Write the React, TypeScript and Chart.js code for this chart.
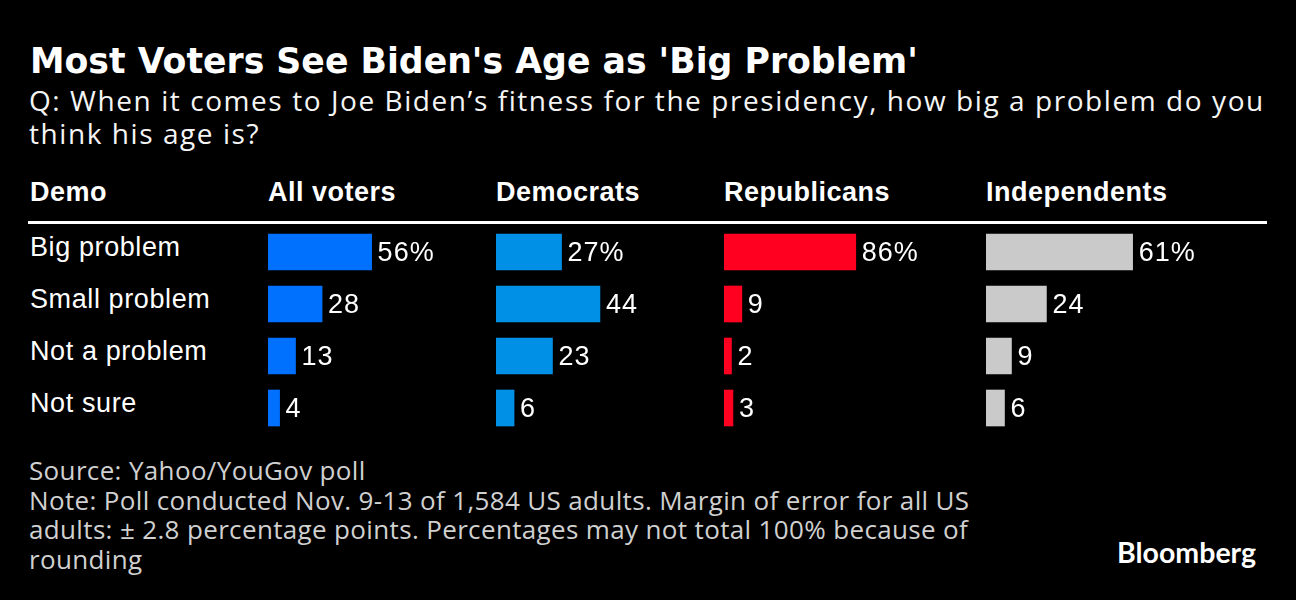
import React, { useEffect, useRef } from "react";
import { Chart, registerables } from "chart.js";

Chart.register(...registerables);

// ---- data ----
const title = "Most Voters See Biden's Age as 'Big Problem'";
const subtitleLines = [
  "Q: When it comes to Joe Biden\u2019s fitness for the presidency, how big a problem do you",
  "think his age is?",
];
const headerDemo = "Demo";
const categories = ["Big problem", "Small problem", "Not a problem", "Not sure"];
const groups = ["All voters", "Democrats", "Republicans", "Independents"];
const allVoters = [56, 28, 13, 4];
const democrats = [27, 44, 23, 6];
const republicans = [86, 9, 2, 3];
const independents = [61, 24, 9, 6];
const sourceLines = [
  "Source: Yahoo/YouGov poll",
  "Note: Poll conducted Nov. 9-13 of 1,584 US adults. Margin of error for all US",
  "adults: \u00b1 2.8 percentage points. Percentages may not total 100% because of",
  "rounding",
];

// ---- layout / style ----
const seriesValues = [allVoters, democrats, republicans, independents];
const colors = ["#0070ff", "#0091e6", "#ff0021", "#cacaca"];
const colLeft = [268, 496, 724, 986];
const colWidth = [228, 228, 262, 282];
const pxPerUnit = [1.77, 2.26, 1.48, 2.33];
const baseOffsetPx = 4.5;
const chartTop = 226;
const rowH = 52;

const SANS = "'Liberation Sans', Arial, Helvetica, sans-serif";
const DEJAVU = "'DejaVu Sans', sans-serif";
const TEXT = "'Open Sans', 'Noto Sans', sans-serif";
const LOGO = "Lato, 'Open Sans', sans-serif";

function BarColumn(props: { values: number[]; color: string; left: number; width: number; ppu: number }) {
  const { values, color, left, width, ppu } = props;
  const ref = useRef<HTMLCanvasElement>(null);
  const height = rowH * categories.length;
  useEffect(() => {
    if (!ref.current) return;
    const min = -baseOffsetPx / ppu;
    const max = min + width / ppu;
    const labelPlugin = {
      id: "valueLabels",
      afterDatasetsDraw(chart: any) {
        const ctx = chart.ctx as CanvasRenderingContext2D;
        const meta = chart.getDatasetMeta(0);
        ctx.save();
        ctx.fillStyle = "#ffffff";
        ctx.font = `27px ${SANS}`;
        (ctx as any).letterSpacing = "1px";
        ctx.textAlign = "left";
        ctx.textBaseline = "alphabetic";
        meta.data.forEach((bar: any, i: number) => {
          const v = values[i];
          const text = i === 0 ? `${v}%` : `${v}`;
          ctx.fillText(text, bar.x + 6, bar.y + 8.5);
        });
        ctx.restore();
      },
    };
    const chart = new Chart(ref.current, {
      type: "bar",
      data: {
        labels: categories,
        datasets: [
          {
            data: values,
            backgroundColor: color,
            borderWidth: 0,
            base: min,
            barThickness: 36,
          } as any,
        ],
      },
      options: {
        indexAxis: "y",
        animation: false,
        responsive: false,
        maintainAspectRatio: false,
        events: [],
        layout: { padding: 0 },
        plugins: { legend: { display: false }, tooltip: { enabled: false } },
        scales: {
          x: { display: false, min, max },
          y: { display: false },
        },
      },
      plugins: [labelPlugin],
    });
    return () => chart.destroy();
  }, []);
  return (
    <canvas
      ref={ref}
      width={width}
      height={height}
      style={{ position: "absolute", left, top: chartTop, width, height }}
    />
  );
}

export default function App() {
  useEffect(() => {
    document.body.style.margin = "0";
    document.body.style.background = "#000";
  }, []);
  const abs = (s: React.CSSProperties): React.CSSProperties => ({ position: "absolute", whiteSpace: "nowrap", margin: 0, ...s });
  return (
    <div style={{ position: "relative", width: 1296, height: 600, background: "#000", overflow: "hidden", color: "#fff" }}>
      <div style={abs({ left: 30, top: 44, fontFamily: DEJAVU, fontWeight: "bold", fontSize: 34.7, lineHeight: "34px" })}>{title}</div>
      {subtitleLines.map((l, i) => (
        <div key={i} style={abs({ left: 29, top: 84.2 + i * 33, fontFamily: TEXT, fontSize: 28, lineHeight: "33px", letterSpacing: "1.57px", color: "#f5f5f5" })}>{l}</div>
      ))}
      <div style={abs({ left: 30, top: 179, fontFamily: SANS, fontWeight: "bold", fontSize: 27, lineHeight: "27px", letterSpacing: "0.5px" })}>{headerDemo}</div>
      {groups.map((g, i) => (
        <div key={g} style={abs({ left: colLeft[i], top: 179, fontFamily: SANS, fontWeight: "bold", fontSize: 27, lineHeight: "27px", letterSpacing: "0.5px" })}>{g}</div>
      ))}
      <div style={abs({ left: 28, top: 221, width: 1239, height: 3, background: "#fff" })} />
      {categories.map((c, i) => (
        <div key={c} style={abs({ left: 30, top: 234 + i * rowH, fontFamily: SANS, fontSize: 27, lineHeight: "27px", letterSpacing: "0.6px" })}>{c}</div>
      ))}
      {seriesValues.map((vals, i) => (
        <BarColumn key={i} values={vals} color={colors[i]} left={colLeft[i]} width={colWidth[i]} ppu={pxPerUnit[i]} />
      ))}
      {sourceLines.map((l, i) => (
        <div key={i} style={abs({ left: 29, top: 456 + i * 29.7, fontFamily: TEXT, fontSize: 26, lineHeight: "29.7px", letterSpacing: "0.35px", color: "#d0d0d0" })}>{l}</div>
      ))}
      <div style={abs({ left: 1117, top: 538, fontFamily: LOGO, fontWeight: "bold", fontSize: 28.5, lineHeight: "28px" })}>Bloomberg</div>
    </div>
  );
}
